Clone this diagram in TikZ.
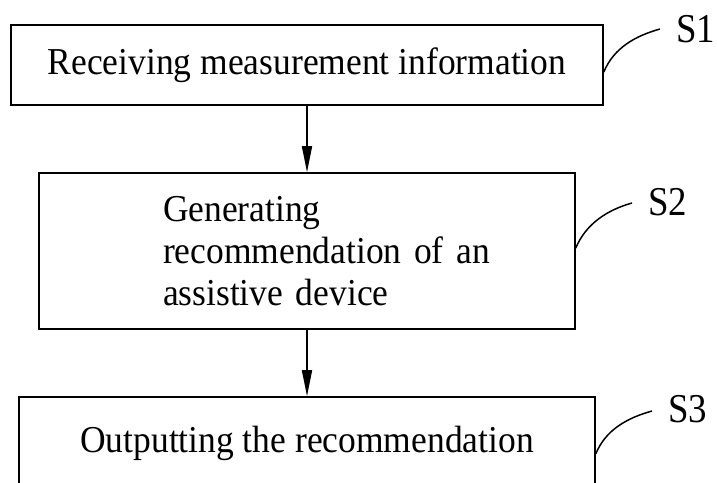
\documentclass[tikz,border=0pt]{standalone}
\usepackage{fontspec}
\setmainfont{Liberation Serif}
\newfontfamily\bodyfont{Liberation Serif}[FakeStretch=0.934]
\newfontfamily\labelfont{Liberation Serif}[FakeStretch=0.9]
\usetikzlibrary{arrows.meta}
\begin{document}
\begin{tikzpicture}[x=1pt,y=-1pt,
  stepbox/.style={draw=black, line width=1.6pt, rectangle, inner sep=0pt,
    font=\bodyfont\fontsize{38}{42}\selectfont},
  flow/.style={draw=black, line width=1.6pt, -{Triangle[length=26pt,width=10pt]}},
  lead/.style={draw=black, line width=1.5pt},
  steplabel/.style={inner sep=0pt, anchor=base west, font=\labelfont\fontsize{41}{44}\selectfont}]
\useasboundingbox (0,0) rectangle (717,482);
\clip (0,0) rectangle (717,482);

\node[stepbox, minimum width=592pt, minimum height=80pt] (b1) at (307,65)
  {Receiving measurement information};
\node[stepbox, minimum height=156pt, text width=288pt, inner xsep=124pt, align=left] (b2) at (307,251)
  {\mbox{Generating}\\ \mbox{recommendation of an}\\ \mbox{assistive device}};
\node[stepbox, minimum width=576pt, minimum height=93.5pt] (b3) at (307,443.75)
  {Outputting the recommendation};

\draw[flow] (b1.south) -- (b2.north);
\draw[flow] (b2.south) -- (b3.north);

\node[steplabel] (s1) at (676,42) {S1};
\node[steplabel] (s2) at (648,215) {S2};
\node[steplabel] (s3) at (668,422) {S3};

\coordinate (e1) at (660,29);
\coordinate (e2) at (632,203);
\coordinate (e3) at (652,411);

\draw[lead] ([yshift=-7pt]b1.east) .. controls +(10,-24) and +(-25,7) .. (e1);
\draw[lead] ([yshift=3pt]b2.east) .. controls +(10,-24) and +(-25,7) .. (e2);
\draw[lead] ([yshift=-10pt]b3.east) .. controls +(10,-24) and +(-25,7) .. (e3);
\end{tikzpicture}
\end{document}
